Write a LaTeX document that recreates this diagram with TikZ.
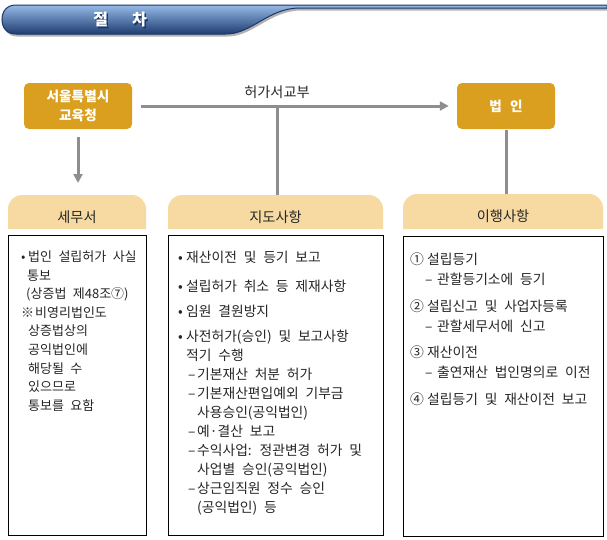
\documentclass[tikz,border=0pt]{standalone}
\usepackage{fontspec}
\setmainfont{Noto Sans CJK KR}[WordSpace=2.2]
\usepackage{tikz}
\usetikzlibrary{arrows.meta,backgrounds,calc,positioning}
\definecolor{gold}{HTML}{DA9F1E}
\definecolor{tabtan}{HTML}{F6DAA2}
\definecolor{linkgray}{HTML}{8E8E8E}
\definecolor{navy}{HTML}{1C3766}
\tikzset{%
	govbox/.style   = {fill=gold, rounded corners=5pt, text=white, align=center, minimum height=46pt, font=\fontsize{13.6}{19}\selectfont\bfseries},
	tabhead/.style  = {minimum height=34pt, outer sep=0pt, text height=21pt, text depth=1pt, text=black!85, font=\fontsize{14.2}{16}\selectfont},
	listbox/.style  = {draw, line width=1pt, fill=white, minimum height=300pt},
	listtext/.style = {anchor=north west, inner sep=0pt, align=left, text=black!85},
	link/.style     = {draw=linkgray, line width=3pt},
	linkarrow/.style= {link, -{Triangle[length=9pt,width=9pt]}},
}
\newcommand{\tabshape}[1]{%
	\fill[tabtan] (#1.south west) -- ([yshift=-14pt]#1.north west) to[out=90,in=180] ([xshift=14pt]#1.north west)
		-- ([xshift=-14pt]#1.north east) to[out=0,in=90] ([yshift=-14pt]#1.north east) -- (#1.south east) -- cycle;}
\newcommand{\bul}[1]{\makebox[#1][l]{•}}
\newcommand{\dsh}{\hspace*{10pt}\makebox[9pt][l]{–}}
\newcommand{\num}[1]{\makebox[17pt][l]{#1}}
\newcommand{\sub}{\hspace*{15pt}\makebox[12pt][l]{–}}

\begin{document}
\begin{tikzpicture}[x=1pt,y=-1pt]
	\useasboundingbox (0,0) rectangle (607,539);
	
	% title banner
	\shade[preaction={fill=black!30, transform canvas={xshift=1.5pt,yshift=-2.5pt}}, top color={rgb,255:red,150;green,186;blue,232}, middle color={rgb,255:red,62;green,110;blue,182}, bottom color={rgb,255:red,30;green,60;blue,112}, draw=navy, line width=1pt]
		(16,5) -- (607,5) -- (607,8) -- (300,8) .. controls (268,8) and (252,34) .. (226,34) -- (16,34)
		.. controls (7,34) and (2,28) .. (2,19.5) .. controls (2,11) and (7,5) .. (16,5) -- cycle;
	\node[text=navy, font=\fontsize{16}{16}\selectfont\bfseries] at (121.5,21.5) {절\hspace{24pt}차};
	\node[text=white, font=\fontsize{16}{16}\selectfont\bfseries] (title) at (120,20) {절\hspace{24pt}차};
	
	\node[govbox, minimum width=108pt] (edu) at (78,106) {서울특별시\\교육청};
	\node[govbox, minimum width=98pt] (corp) at (506,106) {법\hspace{0.6em}인};
	
	\node[tabhead, minimum width=138pt] (taxtab) at (77,212) {세무서};
	\node[tabhead, minimum width=215pt] (guidetab) at (275.5,212) {지도사항};
	\node[tabhead, minimum width=200pt, minimum height=35pt] (dutytab) at (503,211.5) {이행사항};
	\begin{scope}[on background layer]
		\tabshape{taxtab} \tabshape{guidetab} \tabshape{dutytab}
	\end{scope}
	
	\node[listbox, minimum width=138pt] (taxbox) at (77,385) {};
	\node[listbox, minimum width=215pt] (guidebox) at (275.5,385) {};
	\node[listbox, minimum width=200pt] (dutybox) at (503,386) {};
	
	\draw[linkarrow, shorten <=8pt, shorten >=12pt] (edu.south) -- (edu.south |- taxtab.north);
	\draw[linkarrow, shorten <=9pt, shorten >=8pt] (edu.east) -- coordinate[pos=0.448] (split)
		node[above=3pt, pos=0.446, font=\fontsize{14.2}{16}\selectfont, text=black!85] (permit) {허가서교부} (corp.west);
	\draw[link] (split) -- (split |- guidetab.north);
	\draw[link] ([yshift=-1pt]corp.south) -- (corp.south |- dutytab.north);
	
	\node[listtext, font=\fontsize{13}{18.6}\selectfont] (taxtext) at (21,250.5) {%
		\bul{7pt}법인 설립허가 사실\\ \hspace*{6pt}통보\\ \hspace*{5pt}(상증법 제48조⑦)\\
		\makebox[14pt][l]{※}비영리법인도\\ \hspace*{7pt}상증법상의\\ \hspace*{7pt}공익법인에\\
		\hspace*{7pt}해당될 수\\ \hspace*{7pt}있으므로\\ \hspace*{7pt}통보를 요함};
	
	\node[listtext, font=\fontsize{13.8}{19}\selectfont] (guidetext) at (178,250.5) {%
		\bul{8pt}재산이전 및 등기 보고\\[10pt]
		\bul{8pt}설립허가 취소 등 제재사항\\[6pt]
		\bul{8pt}임원 결원방지\\[6pt]
		\bul{8pt}사전허가(승인) 및 보고사항\\ \hspace*{8pt}적기 수행\\
		\dsh 기본재산 처분 허가\\ \dsh 기본재산편입예외 기부금\\ \hspace*{19pt}사용승인(공익법인)\\
		\dsh 예·결산 보고\\ \dsh 수익사업: 정관변경 허가 및\\ \hspace*{19pt}사업별 승인(공익법인)\\
		\dsh 상근임직원 정수 승인\\ \hspace*{19pt}(공익법인) 등};
	
	\node[listtext, font=\fontsize{13.8}{20}\selectfont] (dutytext) at (410,252.5) {%
		\num{①}설립등기\\ \sub 관할등기소에 등기\\[7pt]
		\num{②}설립신고 및 사업자등록\\ \sub 관할세무서에 신고\\[6pt]
		\num{③}재산이전\\ \sub 출연재산 법인명의로 이전\\[7pt]
		\num{④}설립등기 및 재산이전 보고};
\end{tikzpicture}
\end{document}
